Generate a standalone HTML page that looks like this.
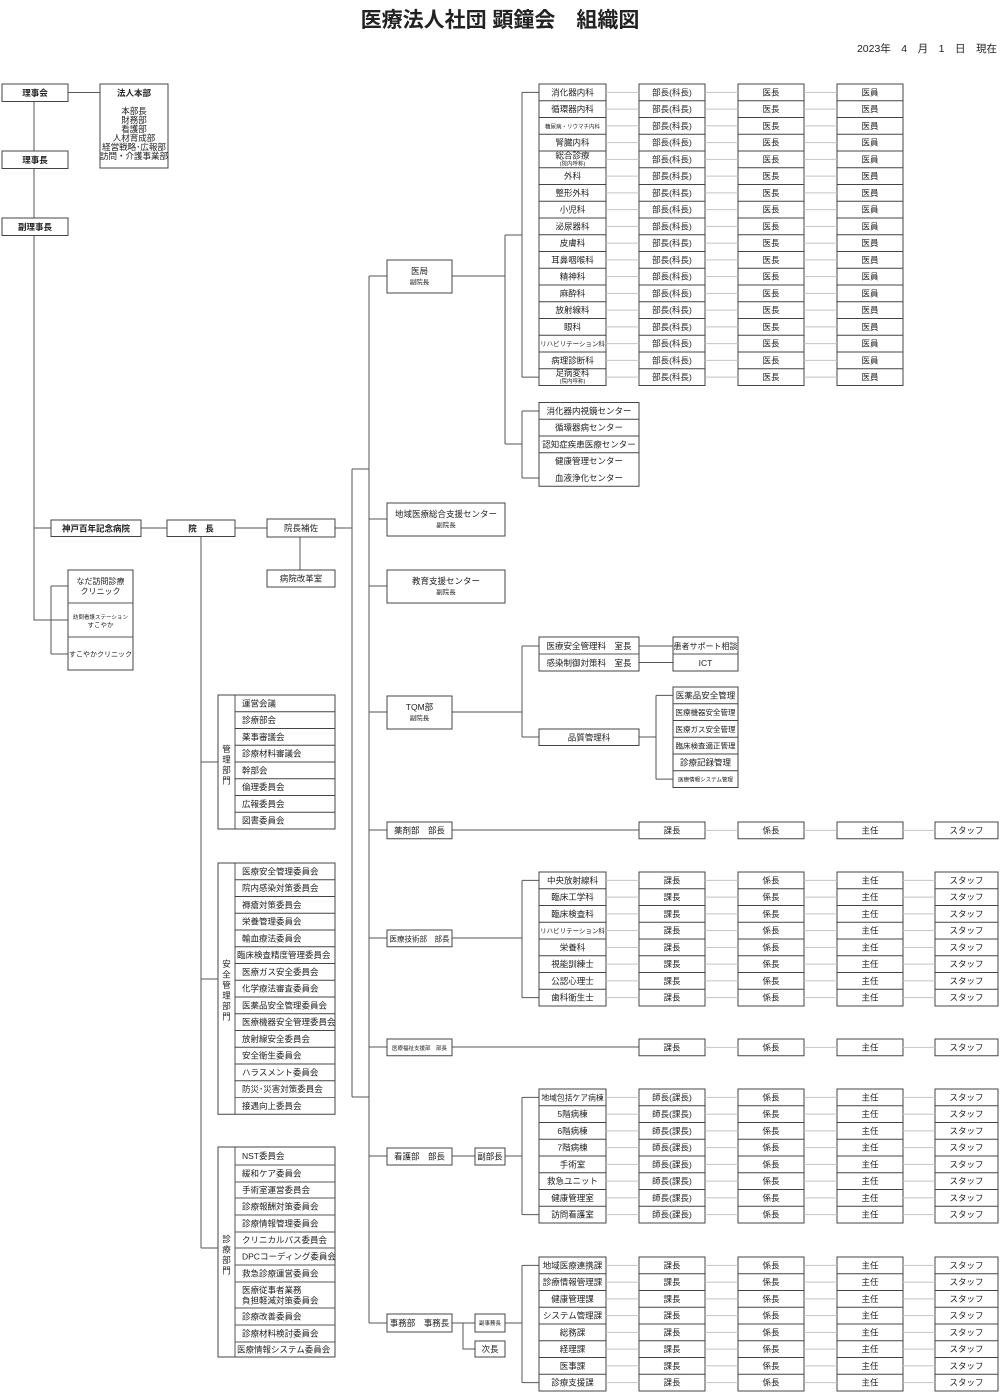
<!DOCTYPE html>
<html><head><meta charset="utf-8"><style>
html,body{margin:0;padding:0;background:#fff}
svg{display:block}
text{font-family:"Liberation Sans","Noto Sans CJK JP",sans-serif;font-size:8.5px;fill:#222;text-anchor:middle}
.b{font-weight:bold}
.l{text-anchor:start}
.s{font-size:6.5px}
.xs{font-size:5.5px}
rect{fill:#fff;stroke:#444;stroke-width:1}
.ln{stroke:#555;stroke-width:1;fill:none}
.sep{stroke:#444;fill:none;stroke-dasharray:1 15.75}
.gc{stroke:#c4c4c4;fill:none;stroke-dasharray:1 15.75}
</style></head><body>
<svg width="1000" height="1392" viewBox="0 0 1000 1392" xmlns="http://www.w3.org/2000/svg">
<text x="500" y="27" class="b" style="font-size:21px">医療法人社団 顕鐘会　組織図</text>
<text x="997" y="52" style="font-size:10.5px;text-anchor:end">2023年　4　月　1　日　現在</text>

<path class="ln" d="M68 92.5H100 M34 101V620H68 M34 528H51 M141 528H167 M51 586V654 M51 586H68 M51 654H68 M235 528H267 M300 537V570 M335 528H352 M201 537V1248 M201 762H218 M201 979H218 M201 1248H218"/>
<path class="ln" d="M352 469V1097 M352 469H369 M352 1097H369 M369 276V1323 M369 276H387 M369 519H387 M369 586H387 M369 712H387 M369 830H387 M369 938H387 M369 1047H387 M369 1156H387 M369 1323H387"/>
<path class="ln" d="M452 276H505 M505 235V444 M505 235H522 M505 444H522 M522 92.4V377.1 M522 92.4H539 M522 377.1H539 M522 411V478 M522 411H539 M522 478H539"/>
<path class="ln" d="M452 712H522 M522 646V737 M522 646H539 M522 737H539 M639 646H673 M639 662.5H673 M639 737H656 M656 695.4V779.1 M656 695.4H673 M656 779.1H673"/>
<path class="ln" d="M452 830H639 M452 938H522 M522 880.4V997.6 M522 880.4H539 M522 997.6H539 M452 1047H639 M452 1156H475 M505 1156H522 M522 1097.4V1214.6 M522 1097.4H539 M522 1214.6H539 M452 1323H475 M463 1323V1349H475 M505 1323H522 M522 1265.4V1382.6 M522 1265.4H539 M522 1382.6H539"/>

<rect x="2" y="84" width="66" height="17.5"/><text x="35" y="96" class="b">理事会</text>
<rect x="2" y="151" width="66" height="17.5"/><text x="35" y="163" class="b">理事長</text>
<rect x="2" y="218" width="66" height="17.5"/><text x="35" y="230" class="b">副理事長</text>
<rect x="100" y="84" width="68" height="84"/>
<text x="134" y="96" class="b">法人本部</text>
<text x="134" y="114">本部長</text><text x="134" y="123">財務部</text><text x="134" y="132">看護部</text><text x="134" y="141">人材育成部</text><text x="134" y="150">経営戦略･広報部</text><text x="134" y="159">訪問・介護事業部</text>
<rect x="51" y="520" width="90" height="16.5"/><text x="96" y="531.5" class="b">神戸百年記念病院</text>
<rect x="167" y="520" width="68" height="16.5"/><text x="201" y="531.5" class="b">院　長</text>
<rect x="267" y="519" width="68" height="18"/><text x="301" y="531">院長補佐</text>
<rect x="267" y="570" width="68" height="17"/><text x="301" y="581.5">病院改革室</text>
<rect x="68" y="570" width="65" height="100"/>
<path class="ln" d="M68 603H133 M68 637H133"/>
<text x="100.5" y="584" style="font-size:8px">なだ訪問診療</text><text x="100.5" y="594" style="font-size:8px">クリニック</text>
<text x="100.5" y="619" class="xs">訪問看護ステーション</text><text x="100.5" y="627" class="s">すこやか</text>
<text x="100.5" y="656.5" style="font-size:7px">すこやかクリニック</text>

<rect x="387" y="260" width="65" height="33"/><text x="419.5" y="274">医局</text><text x="419.5" y="284" class="s">副院長</text>
<rect x="387" y="503" width="118" height="33"/><text x="446" y="517">地域医療総合支援センター</text><text x="446" y="527" class="s">副院長</text>
<rect x="387" y="570" width="118" height="33"/><text x="446" y="584">教育支援センター</text><text x="446" y="594" class="s">副院長</text>
<rect x="387" y="696" width="65" height="33"/><text x="419.5" y="710">TQM部</text><text x="419.5" y="720" class="s">副院長</text>
<rect x="387" y="822" width="65" height="16.75"/><text x="419.5" y="833.4">薬剤部　部長</text>
<rect x="387" y="930" width="65" height="16.75"/><text x="419.5" y="941.4" class="s" style="font-size:7.5px">医療技術部　部長</text>
<rect x="387" y="1039" width="65" height="16.75"/><text x="419.5" y="1050" class="xs">医療福祉支援部　部長</text>
<rect x="387" y="1148" width="65" height="17"/><text x="419.5" y="1159.5">看護部　部長</text>
<rect x="475" y="1148" width="30" height="17"/><text x="490" y="1159.5">副部長</text>
<rect x="387" y="1314" width="65" height="18"/><text x="419.5" y="1326">事務部　事務長</text>
<rect x="475" y="1314" width="30" height="18"/><text x="490" y="1325" class="xs">副事務長</text>
<rect x="475" y="1341" width="30" height="16"/><text x="490" y="1352">次長</text>

<rect x="539" y="84" width="67" height="301.5"/><line class="sep" x1="572.5" x2="572.5" y1="100.25" y2="369.25" stroke-width="67"/>
<rect x="639" y="84" width="66" height="301.5"/><line class="sep" x1="672" x2="672" y1="100.25" y2="369.25" stroke-width="66"/>
<rect x="738" y="84" width="66" height="301.5"/><line class="sep" x1="771" x2="771" y1="100.25" y2="369.25" stroke-width="66"/>
<rect x="837" y="84" width="66" height="301.5"/><line class="sep" x1="870" x2="870" y1="100.25" y2="369.25" stroke-width="66"/>
<line class="gc" x1="622.5" x2="622.5" y1="91.9" y2="377.6" stroke-width="33"/>
<line class="gc" x1="721.5" x2="721.5" y1="91.9" y2="377.6" stroke-width="33"/>
<line class="gc" x1="820.5" x2="820.5" y1="91.9" y2="377.6" stroke-width="33"/>
<text x="572.5" y="95.4">消化器内科</text><text x="572.5" y="112.1">循環器内科</text><text x="572.5" y="128.4" class="xs">糖尿病・リウマチ内科</text><text x="572.5" y="145.6">腎臓内科</text>
<text x="572.5" y="158.5">総合診療</text><text x="572.5" y="165.5" class="xs">(院内呼称)</text>
<text x="572.5" y="179.1">外科</text><text x="572.5" y="195.9">整形外科</text><text x="572.5" y="212.6">小児科</text><text x="572.5" y="229.4">泌尿器科</text><text x="572.5" y="246.1">皮膚科</text><text x="572.5" y="262.9">耳鼻咽喉科</text><text x="572.5" y="279.6">精神科</text><text x="572.5" y="296.4">麻酔科</text><text x="572.5" y="313.1">放射線科</text><text x="572.5" y="329.9">眼科</text><text x="572.5" y="346.1" class="s">リハビリテーション科</text><text x="572.5" y="363.4">病理診断科</text>
<text x="572.5" y="376">足病変科</text><text x="572.5" y="383" class="xs">(院内呼称)</text>
<text x="672" y="95.4">部長(科長)</text><text x="672" y="112.1">部長(科長)</text><text x="672" y="128.9">部長(科長)</text><text x="672" y="145.6">部長(科長)</text><text x="672" y="162.4">部長(科長)</text><text x="672" y="179.1">部長(科長)</text><text x="672" y="195.9">部長(科長)</text><text x="672" y="212.6">部長(科長)</text><text x="672" y="229.4">部長(科長)</text><text x="672" y="246.1">部長(科長)</text><text x="672" y="262.9">部長(科長)</text><text x="672" y="279.6">部長(科長)</text><text x="672" y="296.4">部長(科長)</text><text x="672" y="313.1">部長(科長)</text><text x="672" y="329.9">部長(科長)</text><text x="672" y="346.6">部長(科長)</text><text x="672" y="363.4">部長(科長)</text><text x="672" y="380.1">部長(科長)</text>
<text x="771" y="95.4">医長</text><text x="771" y="112.1">医長</text><text x="771" y="128.9">医長</text><text x="771" y="145.6">医長</text><text x="771" y="162.4">医長</text><text x="771" y="179.1">医長</text><text x="771" y="195.9">医長</text><text x="771" y="212.6">医長</text><text x="771" y="229.4">医長</text><text x="771" y="246.1">医長</text><text x="771" y="262.9">医長</text><text x="771" y="279.6">医長</text><text x="771" y="296.4">医長</text><text x="771" y="313.1">医長</text><text x="771" y="329.9">医長</text><text x="771" y="346.6">医長</text><text x="771" y="363.4">医長</text><text x="771" y="380.1">医長</text>
<text x="870" y="95.4">医員</text><text x="870" y="112.1">医員</text><text x="870" y="128.9">医員</text><text x="870" y="145.6">医員</text><text x="870" y="162.4">医員</text><text x="870" y="179.1">医員</text><text x="870" y="195.9">医員</text><text x="870" y="212.6">医員</text><text x="870" y="229.4">医員</text><text x="870" y="246.1">医員</text><text x="870" y="262.9">医員</text><text x="870" y="279.6">医員</text><text x="870" y="296.4">医員</text><text x="870" y="313.1">医員</text><text x="870" y="329.9">医員</text><text x="870" y="346.6">医員</text><text x="870" y="363.4">医員</text><text x="870" y="380.1">医員</text>

<rect x="539" y="402.5" width="100" height="83.75"/><line class="sep" x1="589" x2="589" y1="418.75" y2="453.25" stroke-width="100"/>
<text x="589" y="413.9">消化器内視鏡センター</text><text x="589" y="430.6">循環器病センター</text><text x="589" y="447.4">認知症疾患医療センター</text><text x="589" y="464.1">健康管理センター</text><text x="589" y="480.9">血液浄化センター</text>

<rect x="539" y="637" width="100" height="34"/><path class="ln" d="M539 654H639"/>
<text x="589" y="649">医療安全管理科　室長</text><text x="589" y="666">感染制御対策科　室長</text>
<rect x="673" y="637" width="65" height="34"/><path class="ln" d="M673 654H738"/>
<text x="705.5" y="649" style="font-size:8px">患者サポート相談</text><text x="705.5" y="666">ICT</text>
<rect x="539" y="729" width="100" height="16.5"/><text x="589" y="740.5">品質管理科</text>
<rect x="673" y="687" width="65" height="100.5"/><line class="sep" x1="705.5" x2="705.5" y1="703.25" y2="771.25" stroke-width="65"/>
<text x="705.5" y="698.4">医薬品安全管理</text><text x="705.5" y="715.1" style="font-size:7.5px">医療機器安全管理</text><text x="705.5" y="731.9" style="font-size:7.5px">医療ガス安全管理</text><text x="705.5" y="748.6" style="font-size:7.5px">臨床検査適正管理</text><text x="705.5" y="765.4">診療記録管理</text><text x="705.5" y="781.6" class="xs">医療情報システム管理</text>

<rect x="639" y="822" width="66" height="16.75"/><rect x="738" y="822" width="66" height="16.75"/><rect x="837" y="822" width="66" height="16.75"/><rect x="935" y="822" width="63" height="16.75"/>
<path d="M705 830.4H738 M804 830.4H837 M903 830.4H935" stroke="#c4c4c4"/>
<text x="672" y="833.4">課長</text><text x="771" y="833.4">係長</text><text x="870" y="833.4">主任</text><text x="966.5" y="833.4">スタッフ</text>
<rect x="639" y="1039" width="66" height="16.75"/><rect x="738" y="1039" width="66" height="16.75"/><rect x="837" y="1039" width="66" height="16.75"/><rect x="935" y="1039" width="63" height="16.75"/>
<path d="M705 1047.4H738 M804 1047.4H837 M903 1047.4H935" stroke="#c4c4c4"/>
<text x="672" y="1050.4">課長</text><text x="771" y="1050.4">係長</text><text x="870" y="1050.4">主任</text><text x="966.5" y="1050.4">スタッフ</text>

<g>
<rect x="539" y="872" width="67" height="134"/><line class="sep" x1="572.5" x2="572.5" y1="888.25" y2="989.75" stroke-width="67"/>
<rect x="639" y="872" width="66" height="134"/><line class="sep" x1="672" x2="672" y1="888.25" y2="989.75" stroke-width="66"/>
<rect x="738" y="872" width="66" height="134"/><line class="sep" x1="771" x2="771" y1="888.25" y2="989.75" stroke-width="66"/>
<rect x="837" y="872" width="66" height="134"/><line class="sep" x1="870" x2="870" y1="888.25" y2="989.75" stroke-width="66"/>
<rect x="935" y="872" width="63" height="134"/><line class="sep" x1="966.5" x2="966.5" y1="888.25" y2="989.75" stroke-width="63"/>
<line class="gc" x1="622.5" x2="622.5" y1="879.9" y2="998.1" stroke-width="33"/>
<line class="gc" x1="721.5" x2="721.5" y1="879.9" y2="998.1" stroke-width="33"/>
<line class="gc" x1="820.5" x2="820.5" y1="879.9" y2="998.1" stroke-width="33"/>
<line class="gc" x1="919" x2="919" y1="879.9" y2="998.1" stroke-width="32"/>
<text x="572.5" y="883.4">中央放射線科</text><text x="572.5" y="900.1">臨床工学科</text><text x="572.5" y="916.9">臨床検査科</text><text x="572.5" y="933.1" class="s">リハビリテーション科</text><text x="572.5" y="950.4">栄養科</text><text x="572.5" y="967.1">視能訓練士</text><text x="572.5" y="983.9">公認心理士</text><text x="572.5" y="1000.6">歯科衛生士</text>
<text x="672" y="883.4">課長</text><text x="672" y="900.1">課長</text><text x="672" y="916.9">課長</text><text x="672" y="933.6">課長</text><text x="672" y="950.4">課長</text><text x="672" y="967.1">課長</text><text x="672" y="983.9">課長</text><text x="672" y="1000.6">課長</text>
<text x="771" y="883.4">係長</text><text x="771" y="900.1">係長</text><text x="771" y="916.9">係長</text><text x="771" y="933.6">係長</text><text x="771" y="950.4">係長</text><text x="771" y="967.1">係長</text><text x="771" y="983.9">係長</text><text x="771" y="1000.6">係長</text>
<text x="870" y="883.4">主任</text><text x="870" y="900.1">主任</text><text x="870" y="916.9">主任</text><text x="870" y="933.6">主任</text><text x="870" y="950.4">主任</text><text x="870" y="967.1">主任</text><text x="870" y="983.9">主任</text><text x="870" y="1000.6">主任</text>
<text x="966.5" y="883.4">スタッフ</text><text x="966.5" y="900.1">スタッフ</text><text x="966.5" y="916.9">スタッフ</text><text x="966.5" y="933.6">スタッフ</text><text x="966.5" y="950.4">スタッフ</text><text x="966.5" y="967.1">スタッフ</text><text x="966.5" y="983.9">スタッフ</text><text x="966.5" y="1000.6">スタッフ</text>
</g>

<g>
<rect x="539" y="1089" width="67" height="134"/><line class="sep" x1="572.5" x2="572.5" y1="1105.25" y2="1206.75" stroke-width="67"/>
<rect x="639" y="1089" width="66" height="134"/><line class="sep" x1="672" x2="672" y1="1105.25" y2="1206.75" stroke-width="66"/>
<rect x="738" y="1089" width="66" height="134"/><line class="sep" x1="771" x2="771" y1="1105.25" y2="1206.75" stroke-width="66"/>
<rect x="837" y="1089" width="66" height="134"/><line class="sep" x1="870" x2="870" y1="1105.25" y2="1206.75" stroke-width="66"/>
<rect x="935" y="1089" width="63" height="134"/><line class="sep" x1="966.5" x2="966.5" y1="1105.25" y2="1206.75" stroke-width="63"/>
<line class="gc" x1="622.5" x2="622.5" y1="1096.9" y2="1215.1" stroke-width="33"/>
<line class="gc" x1="721.5" x2="721.5" y1="1096.9" y2="1215.1" stroke-width="33"/>
<line class="gc" x1="820.5" x2="820.5" y1="1096.9" y2="1215.1" stroke-width="33"/>
<line class="gc" x1="919" x2="919" y1="1096.9" y2="1215.1" stroke-width="32"/>
<text x="572.5" y="1100.4" style="font-size:7.8px">地域包括ケア病棟</text><text x="572.5" y="1117.1">5階病棟</text><text x="572.5" y="1133.9">6階病棟</text><text x="572.5" y="1150.6">7階病棟</text><text x="572.5" y="1167.4">手術室</text><text x="572.5" y="1184.1">救急ユニット</text><text x="572.5" y="1200.9">健康管理室</text><text x="572.5" y="1217.6">訪問看護室</text>
<text x="672" y="1100.4">師長(課長)</text><text x="672" y="1117.1">師長(課長)</text><text x="672" y="1133.9">師長(課長)</text><text x="672" y="1150.6">師長(課長)</text><text x="672" y="1167.4">師長(課長)</text><text x="672" y="1184.1">師長(課長)</text><text x="672" y="1200.9">師長(課長)</text><text x="672" y="1217.6">師長(課長)</text>
<text x="771" y="1100.4">係長</text><text x="771" y="1117.1">係長</text><text x="771" y="1133.9">係長</text><text x="771" y="1150.6">係長</text><text x="771" y="1167.4">係長</text><text x="771" y="1184.1">係長</text><text x="771" y="1200.9">係長</text><text x="771" y="1217.6">係長</text>
<text x="870" y="1100.4">主任</text><text x="870" y="1117.1">主任</text><text x="870" y="1133.9">主任</text><text x="870" y="1150.6">主任</text><text x="870" y="1167.4">主任</text><text x="870" y="1184.1">主任</text><text x="870" y="1200.9">主任</text><text x="870" y="1217.6">主任</text>
<text x="966.5" y="1100.4">スタッフ</text><text x="966.5" y="1117.1">スタッフ</text><text x="966.5" y="1133.9">スタッフ</text><text x="966.5" y="1150.6">スタッフ</text><text x="966.5" y="1167.4">スタッフ</text><text x="966.5" y="1184.1">スタッフ</text><text x="966.5" y="1200.9">スタッフ</text><text x="966.5" y="1217.6">スタッフ</text>
</g>

<g>
<rect x="539" y="1257" width="67" height="134"/><line class="sep" x1="572.5" x2="572.5" y1="1273.25" y2="1374.75" stroke-width="67"/>
<rect x="639" y="1257" width="66" height="134"/><line class="sep" x1="672" x2="672" y1="1273.25" y2="1374.75" stroke-width="66"/>
<rect x="738" y="1257" width="66" height="134"/><line class="sep" x1="771" x2="771" y1="1273.25" y2="1374.75" stroke-width="66"/>
<rect x="837" y="1257" width="66" height="134"/><line class="sep" x1="870" x2="870" y1="1273.25" y2="1374.75" stroke-width="66"/>
<rect x="935" y="1257" width="63" height="134"/><line class="sep" x1="966.5" x2="966.5" y1="1273.25" y2="1374.75" stroke-width="63"/>
<line class="gc" x1="622.5" x2="622.5" y1="1264.9" y2="1383.1" stroke-width="33"/>
<line class="gc" x1="721.5" x2="721.5" y1="1264.9" y2="1383.1" stroke-width="33"/>
<line class="gc" x1="820.5" x2="820.5" y1="1264.9" y2="1383.1" stroke-width="33"/>
<line class="gc" x1="919" x2="919" y1="1264.9" y2="1383.1" stroke-width="32"/>
<text x="572.5" y="1268.4">地域医療連携課</text><text x="572.5" y="1285.1">診療情報管理課</text><text x="572.5" y="1301.9">健康管理課</text><text x="572.5" y="1318.6">システム管理課</text><text x="572.5" y="1335.4">総務課</text><text x="572.5" y="1352.1">経理課</text><text x="572.5" y="1368.9">医事課</text><text x="572.5" y="1385.6">診療支援課</text>
<text x="672" y="1268.4">課長</text><text x="672" y="1285.1">課長</text><text x="672" y="1301.9">課長</text><text x="672" y="1318.6">課長</text><text x="672" y="1335.4">課長</text><text x="672" y="1352.1">課長</text><text x="672" y="1368.9">課長</text><text x="672" y="1385.6">課長</text>
<text x="771" y="1268.4">係長</text><text x="771" y="1285.1">係長</text><text x="771" y="1301.9">係長</text><text x="771" y="1318.6">係長</text><text x="771" y="1335.4">係長</text><text x="771" y="1352.1">係長</text><text x="771" y="1368.9">係長</text><text x="771" y="1385.6">係長</text>
<text x="870" y="1268.4">主任</text><text x="870" y="1285.1">主任</text><text x="870" y="1301.9">主任</text><text x="870" y="1318.6">主任</text><text x="870" y="1335.4">主任</text><text x="870" y="1352.1">主任</text><text x="870" y="1368.9">主任</text><text x="870" y="1385.6">主任</text>
<text x="966.5" y="1268.4">スタッフ</text><text x="966.5" y="1285.1">スタッフ</text><text x="966.5" y="1301.9">スタッフ</text><text x="966.5" y="1318.6">スタッフ</text><text x="966.5" y="1335.4">スタッフ</text><text x="966.5" y="1352.1">スタッフ</text><text x="966.5" y="1368.9">スタッフ</text><text x="966.5" y="1385.6">スタッフ</text>
</g>

<rect x="218" y="695" width="117" height="134"/><path class="ln" d="M235 695V829"/>
<line class="sep" x1="285" x2="285" y1="711.25" y2="812.75" stroke-width="100"/>
<text x="226.5" y="752">管</text><text x="226.5" y="762.5">理</text><text x="226.5" y="773">部</text><text x="226.5" y="783.5">門</text>
<text class="l" x="242" y="706.4">運営会議</text><text class="l" x="242" y="723.1">診療部会</text><text class="l" x="242" y="739.9">薬事審議会</text><text class="l" x="242" y="756.6">診療材料審議会</text><text class="l" x="242" y="773.4">幹部会</text><text class="l" x="242" y="790.1">倫理委員会</text><text class="l" x="242" y="806.9">広報委員会</text><text class="l" x="242" y="823.6">図書委員会</text>

<rect x="218" y="863" width="117" height="251.25"/><path class="ln" d="M235 863V1114.25"/>
<line class="sep" x1="285" x2="285" y1="879.25" y2="1097.75" stroke-width="100"/>
<text x="226.5" y="967">安</text><text x="226.5" y="977.5">全</text><text x="226.5" y="988">管</text><text x="226.5" y="998.5">理</text><text x="226.5" y="1009">部</text><text x="226.5" y="1019.5">門</text>
<text class="l" x="242" y="874.4">医療安全管理委員会</text><text class="l" x="242" y="891.1">院内感染対策委員会</text><text class="l" x="242" y="907.9">褥瘡対策委員会</text><text class="l" x="242" y="924.6">栄養管理委員会</text><text class="l" x="242" y="941.4">輸血療法委員会</text><text class="l" x="237" y="958.1">臨床検査精度管理委員会</text><text class="l" x="242" y="974.9">医療ガス安全委員会</text><text class="l" x="242" y="991.6">化学療法審査委員会</text><text class="l" x="242" y="1008.4">医薬品安全管理委員会</text><text class="l" x="242" y="1025.1">医療機器安全管理委員会</text><text class="l" x="242" y="1041.9">放射線安全委員会</text><text class="l" x="242" y="1058.6">安全衛生委員会</text><text class="l" x="242" y="1075.4">ハラスメント委員会</text><text class="l" x="242" y="1092.1">防災･災害対策委員会</text><text class="l" x="242" y="1108.9">接遇向上委員会</text>

<rect x="218" y="1147" width="117" height="210"/><path class="ln" d="M235 1147V1357 M235 1165H335 M235 1182H335 M235 1198H335 M235 1215H335 M235 1232H335 M235 1248H335 M235 1265H335 M235 1282H335 M235 1308H335 M235 1325H335 M235 1342H335"/>
<text x="226.5" y="1242">診</text><text x="226.5" y="1252.5">療</text><text x="226.5" y="1263">部</text><text x="226.5" y="1273.5">門</text>
<text class="l" x="242" y="1159">NST委員会</text><text class="l" x="242" y="1176.5">緩和ケア委員会</text><text class="l" x="242" y="1193">手術室運営委員会</text><text class="l" x="242" y="1209.5">診療報酬対策委員会</text><text class="l" x="242" y="1226.5">診療情報管理委員会</text><text class="l" x="242" y="1243">クリニカルパス委員会</text><text class="l" x="242" y="1259.5">DPCコーディング委員会</text><text class="l" x="242" y="1276.5">救急診療運営委員会</text>
<text class="l" x="242" y="1293">医療従事者業務</text><text class="l" x="242" y="1303.5">負担軽減対策委員会</text>
<text class="l" x="242" y="1319.5">診療改善委員会</text><text class="l" x="242" y="1336.5">診療材料検討委員会</text><text class="l" x="237" y="1352.5">医療情報システム委員会</text>
</svg>
</body></html>
